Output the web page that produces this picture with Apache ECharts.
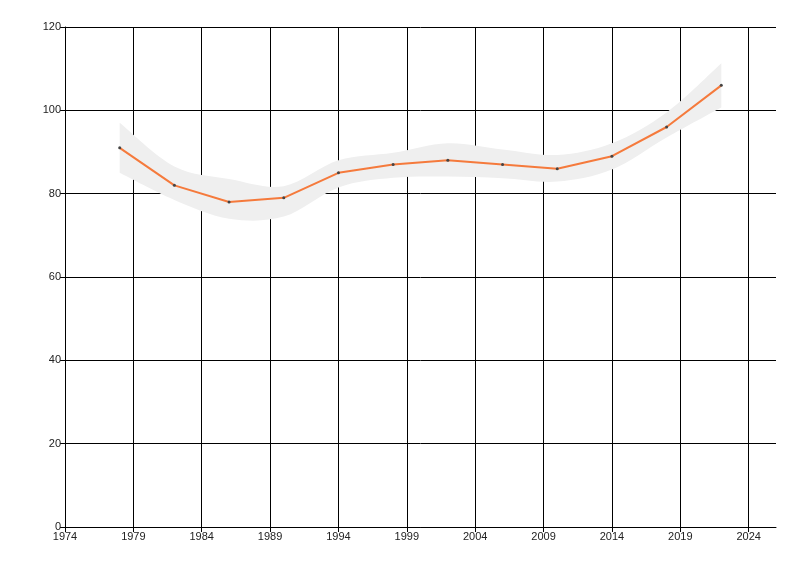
<!DOCTYPE html>
<html>
<head>
<meta charset="utf-8">
<script src="https://cdn.jsdelivr.net/npm/echarts@6/dist/echarts.min.js"></script>
<style>
html,body{margin:0;padding:0;background:#fff}
#main{width:800px;height:576px}
</style>
</head>
<body>
<div id="main"></div>
<script>
// data
var years=[1978,1982,1986,1990,1994,1998,2002,2006,2010,2014,2018,2022];
var values=[91,82,78,79,85,87,88,87,86,89,96,106];
var bandLow=[85,78.5,74,74.5,81.5,83.8,84.1,83.7,82.9,85.8,93.5,100.7];
var bandHigh=[97,86.5,83.5,81.8,88,89.8,92.1,90.6,89.3,92.1,99.5,111.3];
var xTicks=[1974,1979,1984,1989,1994,1999,2004,2009,2014,2019,2024];

var linePts=[];
for(var i=0;i<years.length;i++){
  linePts.push([years[i],values[i]]);
}

// catmull-rom through pixel points -> svg bezier segments
function curve(pts,first){
  var d=first?'M'+pts[0][0]+' '+pts[0][1]:'L'+pts[0][0]+' '+pts[0][1];
  for(var i=0;i<pts.length-1;i++){
    var p0=pts[i-1]||pts[i],p1=pts[i],p2=pts[i+1],p3=pts[i+2]||pts[i+1];
    var c1x=p1[0]+(p2[0]-p0[0])/6,c1y=p1[1]+(p2[1]-p0[1])/6;
    var c2x=p2[0]-(p3[0]-p1[0])/6,c2y=p2[1]-(p3[1]-p1[1])/6;
    d+=' C'+c1x+' '+c1y+' '+c2x+' '+c2y+' '+p2[0]+' '+p2[1];
  }
  return d;
}

function bandItem(params,api){
  var up=[],lo=[];
  for(var i=0;i<years.length;i++){
    up.push(api.coord([years[i],bandHigh[i]]));
  }
  for(var j=years.length-1;j>=0;j--){
    lo.push(api.coord([years[j],bandLow[j]]));
  }
  var d=curve(up,true)+' '+curve(lo,false)+' Z';
  return {type:'path',shape:{pathData:d},style:{fill:'#efefef',stroke:null}};
}

var chart=echarts.init(document.getElementById('main'));
var font={fontFamily:'Liberation Sans',fontSize:11,color:'#222'};
option={
  animation:false,
  grid:{left:65,top:27,right:24,bottom:49,containLabel:false},
  xAxis:{
    type:'value',min:1974,max:2026,interval:5,
    axisLine:{show:true,lineStyle:{color:'#000',width:1}},
    axisTick:{show:true,length:5,lineStyle:{color:'#000'},customValues:xTicks},
    axisLabel:Object.assign({margin:4,customValues:xTicks,formatter:function(v){return String(v);}},font),
    splitLine:{show:true,lineStyle:{color:'#000',width:1}}
  },
  yAxis:{
    type:'value',min:0,max:120,interval:20,
    axisLine:{show:true,lineStyle:{color:'#000',width:1}},
    axisTick:{show:true,length:5,lineStyle:{color:'#000'}},
    axisLabel:Object.assign({margin:4},font),
    splitLine:{show:true,lineStyle:{color:'#000',width:1}}
  },
  series:[
    {type:'custom',data:[[years[0],bandHigh[0]]],renderItem:bandItem,silent:true,z:3},
    {type:'line',data:linePts,symbol:'circle',symbolSize:3,
     itemStyle:{color:'#444'},lineStyle:{color:'#f57a3c',width:2},z:5}
  ]
};
chart.setOption(option);
</script>
</body>
</html>
